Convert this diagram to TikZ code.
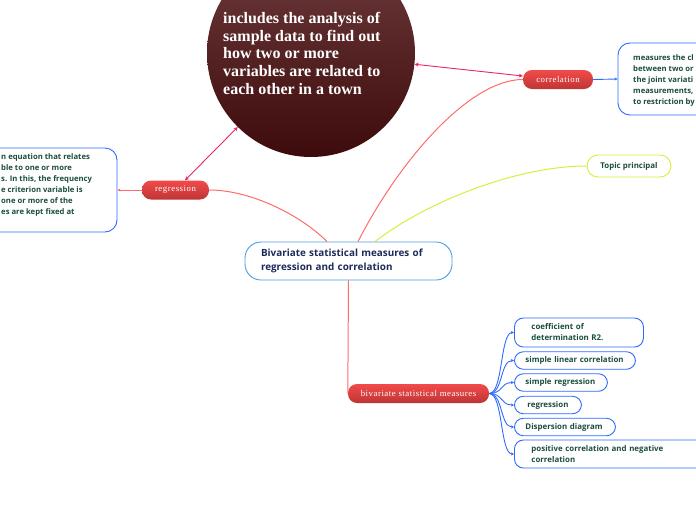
\documentclass[tikz,border=0pt]{standalone}
\usepackage{fontspec}
\setmainfont{Liberation Serif}
\newfontfamily\boxfont{Open Sans}
\newfontfamily\pillfont[LetterSpace=6]{Liberation Serif}
\usetikzlibrary{arrows.meta}
\begin{document}
\begin{tikzpicture}[x=1pt, y=-1pt,
    pill/.style={rectangle, rounded corners=9pt, top color=pillTop, bottom color=pillBottom,
        text=white, font=\pillfont\fontsize{8.8}{10}\selectfont, minimum height=19pt, inner sep=0pt},
    leaf/.style={rectangle, rounded corners=9pt, draw=leafBlue, line width=0.9pt, fill=white,
        font=\boxfont\bfseries\fontsize{7.9}{11}\selectfont, text=leafText, align=left,
        anchor=west, inner xsep=11pt, inner ysep=0pt},
    toleaf/.style={draw=leafBlue, line width=0.9pt, -{Stealth[length=3pt,width=3pt]}},
    redlink/.style={draw=redLine, line width=1pt},
    pinklink/.style={draw=pinkLine, line width=0.9pt, {Stealth[length=4pt,width=4pt]}-{Stealth[length=4pt,width=4pt]}}]
    \definecolor{pillTop}{HTML}{F24A4A}
    \definecolor{pillBottom}{HTML}{BF3535}
    \definecolor{leafBlue}{HTML}{2D6BFF}
    \definecolor{leafText}{HTML}{1B4D3E}
    \definecolor{mainBorder}{HTML}{4D9DE0}
    \definecolor{mainText}{HTML}{1D2B5A}
    \definecolor{circTop}{HTML}{6E3B3E}
    \definecolor{circBottom}{HTML}{3D0B0B}
    \definecolor{pinkLine}{HTML}{E8246C}
    \definecolor{redLine}{HTML}{FF6B6B}
    \definecolor{topicLine}{HTML}{D8EE3A}

    \useasboundingbox (0,0) rectangle (696,520);
    \clip (0,0) rectangle (696,520);

    % Central topic
    \node[rectangle, rounded corners=16pt, draw=mainBorder, line width=0.9pt, fill=white,
        minimum width=207pt, minimum height=38pt, text width=175pt, align=left, inner xsep=16pt,
        font=\boxfont\bfseries\fontsize{9.9}{14}\selectfont, text=mainText]
        (main) at (348.5,261) {Bivariate statistical measures of\\regression and correlation};

    % Big circle
    \node[circle, minimum size=208pt, inner sep=0pt, top color=circTop, bottom color=circBottom]
        (circ) at (311,53) {};
    \node[anchor=north west, inner sep=0pt, align=left, text=white,
        font=\bfseries\fontsize{16}{17.7}\selectfont] (circtext) at (223,12)
        {includes the analysis of\\sample data to find out\\how two or more\\variables are related to\\each other in a town};

    % Main branches
    \node[pill, minimum width=70pt] (corr) at (558,79.5) {correlation};
    \node[pill, minimum width=67pt] (reg) at (175.5,190) {regression};
    \node[pill, minimum width=141pt] (bsm) at (418.5,393.5) {bivariate statistical measures};
    \node[rectangle, rounded corners=11pt, draw=topicLine, line width=0.9pt, fill=white,
        minimum width=84pt, minimum height=22pt, font=\boxfont\bfseries\fontsize{7.9}{9}\selectfont,
        text=leafText] (topic) at (629,166) {Topic principal};

    % Side boxes, cut by the page edge
    \node[rectangle, rounded corners=12pt, draw=leafBlue, line width=0.9pt, fill=white,
        minimum width=160pt, minimum height=72pt] (corrbox) at (698,79) {};
    \node[anchor=north west, inner sep=0pt, align=left, text=leafText,
        font=\boxfont\bfseries\fontsize{7.7}{11}\selectfont] (corrtext) at (633,54)
        {measures the cl\\between two or\\the joint variati\\measurements,\\to restriction by};
    \node[rectangle, rounded corners=12pt, draw=leafBlue, line width=0.9pt, fill=white,
        minimum width=180pt, minimum height=84pt] (regbox) at (27,190) {};
    \node[anchor=north west, inner sep=0pt, align=left, text=leafText,
        font=\boxfont\bfseries\fontsize{7.7}{11}\selectfont] (regtext) at (1,153)
        {n equation that relates\\ble to one or more\\s. In this, the frequency\\e criterion variable is\\one or more of the\\es are kept fixed at};

    % Leaves of bivariate statistical measures
    \node[leaf, minimum height=29pt, inner xsep=17pt, text width=95pt] (l1) at (514,332.5) {coefficient of\\determination R2.};
    \node[leaf, minimum height=17.5pt, text width=99pt] (l2) at (514,360.5) {simple linear correlation};
    \node[leaf, minimum height=17.5pt, text width=71pt] (l3) at (514,382.5) {simple regression};
    \node[leaf, minimum height=17.5pt, inner xsep=13pt, text width=41pt] (l4) at (514,405) {regression};
    \node[leaf, minimum height=17.5pt, text width=79pt] (l5) at (514,427) {Dispersion diagram};
    \node[leaf, minimum height=28pt, inner xsep=17pt, text width=166pt] (l6) at (514,454) {positive correlation and negative\\correlation};

    % Connectors
    \draw[redlink] ([xshift=-21.5pt]main.north) .. controls +(-27,-27) and +(41,0) .. (reg.east);
    \draw[redlink] ([xshift=9.5pt]main.north) .. controls +(42,-82) and +(-53,0) .. (corr.west);
    \draw[draw=topicLine, line width=1pt] ([xshift=26.5pt]main.north) .. controls +(55,-42) and +(-67,0) .. (topic.west);
    \draw[redlink] (main.south) -- (bsm.west);
    \draw[pinklink] ([xshift=9.5pt]reg.north) -- (circ);
    \draw[pinklink] ([yshift=3.5pt]corr.west) -- (circ);
    \draw[toleaf] (corr.east) -- (corrbox.west);
    \draw[redlink, -{Stealth[length=3pt,width=3pt]}] (reg.west) -- (regbox.east);
    \foreach \leaf in {l1,l2,l3,l4,l5,l6}
        \draw[toleaf] (bsm.east) .. controls +(14,0) and +(-14,0) .. (\leaf.west);

\end{tikzpicture}
\end{document}
